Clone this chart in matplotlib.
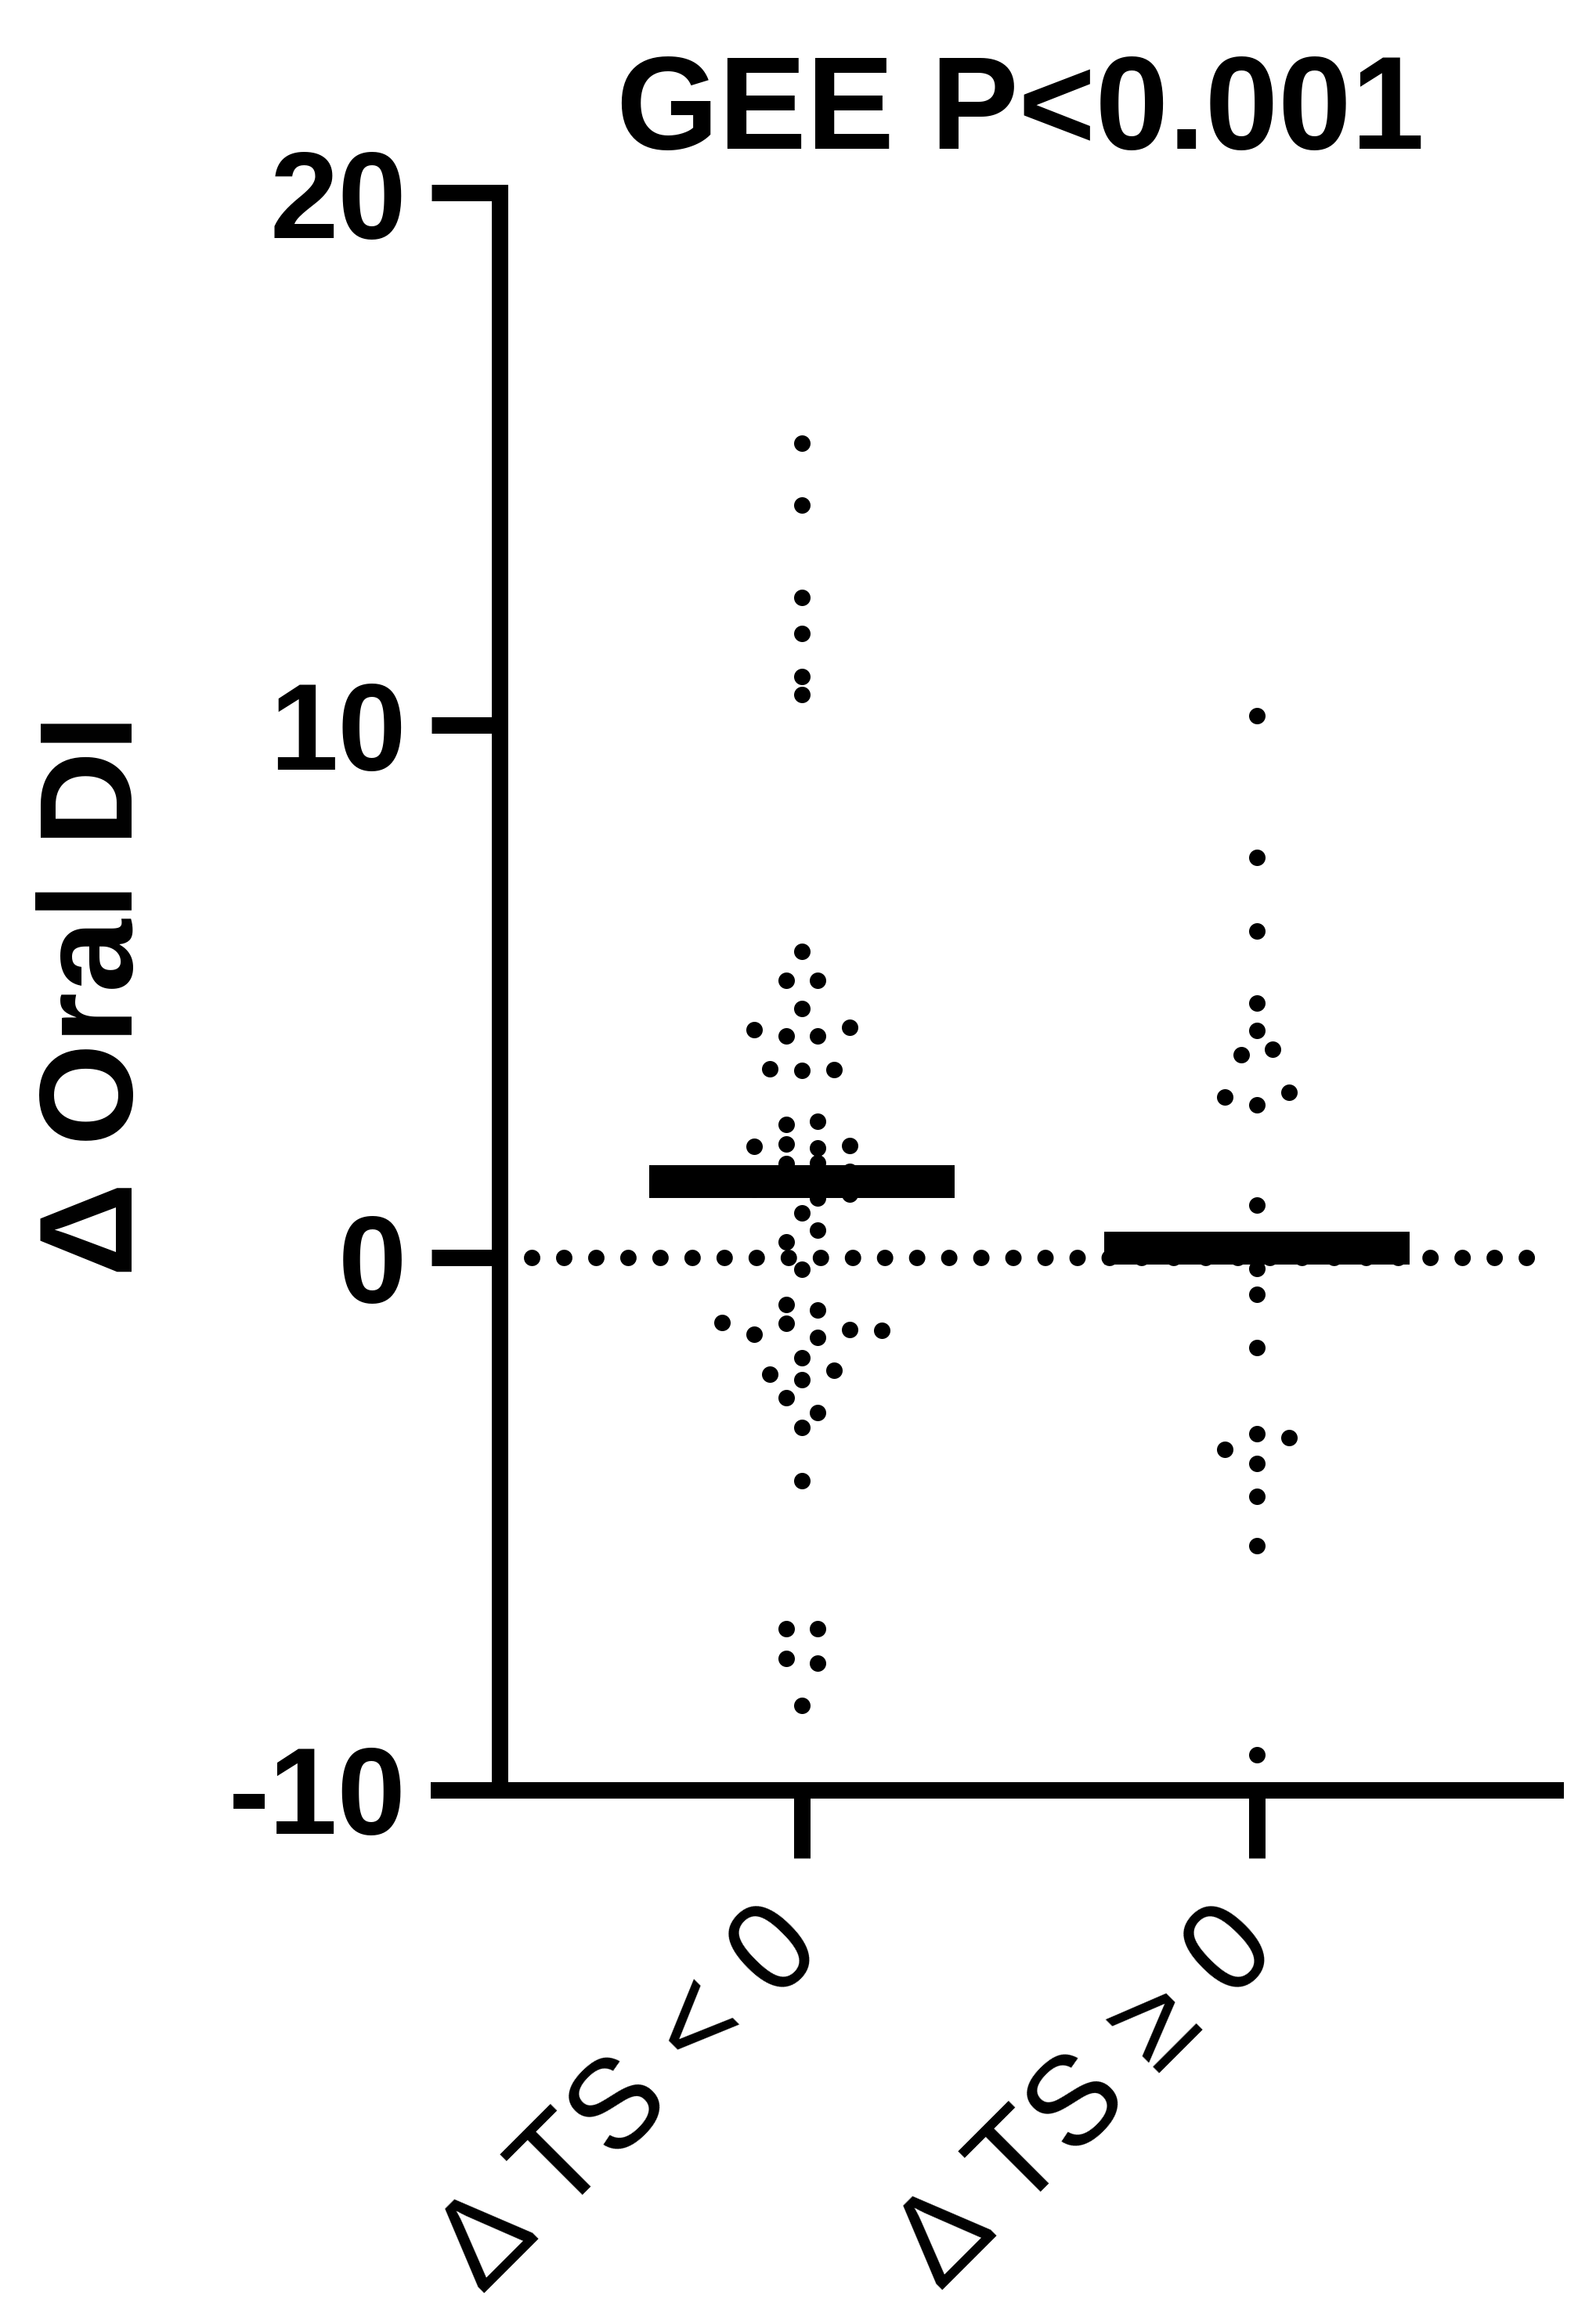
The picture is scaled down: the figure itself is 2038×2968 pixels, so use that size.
import matplotlib
matplotlib.use("Agg")
import matplotlib.pyplot as plt

plt.rcParams['font.family'] = ['Liberation Sans', 'DejaVu Sans']

# values, top to bottom, left to right within a row
ts_neg = [15.30, 14.13, 12.40, 11.73, 10.91, 10.58, 5.75, 5.20, 5.20, 4.68,
          4.28, 4.16, 4.16, 4.33, 3.55, 3.51, 3.53, 2.50, 2.56,
          2.08, 2.13, 2.06, 2.10, 1.52, 1.77, 1.78, 1.61, 1.28, 1.30, 1.12, 1.19,
          0.84, 0.29, 0.51, -0.22, -0.89, -0.99,
          -1.22, -1.44, -1.24, -1.50, -1.35, -1.37, -2.19, -1.89, -2.12,
          -2.30, -2.64, -2.92, -3.20, -4.20, -6.97, -6.97, -7.54, -7.63, -8.42]
ts_pos = [10.18, 7.52, 6.13, 4.78, 4.26, 3.81, 3.91, 3.01, 2.86, 3.10,
          0.98, -0.21, -0.69, -1.69, -3.60, -3.32, -3.39, -3.87, -4.49, -5.42, -9.34]
groups = [ts_neg, ts_pos]
center_lines = [1.42, 0.17]
group_labels = ["Δ TS < 0", "Δ TS ≥ 0"]
y_ticks = [-10, 0, 10, 20]


def swarm_offsets(vals, row_gap=0.32, step=0.0351):
    # prism-like rows: close values sit side by side, centred on the column
    order = sorted(range(len(vals)), key=lambda i: -vals[i])
    rows = []
    for i in order:
        if rows and rows[-1][0] - vals[i] <= row_gap:
            rows[-1][1].append(i)
        else:
            rows.append([vals[i], [i]])
    offs = [0.0] * len(vals)
    for top, idx in rows:
        idx.sort()
        n = len(idx)
        for k, i in enumerate(idx):
            offs[i] = (2 * k - (n - 1)) * step
    return offs


W, H = 2038, 2968
fig = plt.figure(figsize=(W / 100, H / 100), dpi=100)
ax = fig.add_axes([560 / W, 1 - 2285.5 / H, (1986 - 560) / W, (2285.5 - 246.5) / H])

lw = 15.12
ax.set_xlim(0.2014, 2.6558)
ax.set_ylim(-10, 20)

for s in ['top', 'right']:
    ax.spines[s].set_visible(False)
for s in ['left', 'bottom']:
    ax.spines[s].set_linewidth(lw)
ax.spines['left'].set_position(('data', 0.3356))

# dotted zero line
ax.axhline(0, xmin=0.0835, xmax=1.002, color='black', lw=lw,
           linestyle=(0, (0.001, 1.95)), dash_capstyle='round', clip_on=False, zorder=1)

for g, vals in enumerate(groups):
    xpos = g + 1
    offs = swarm_offsets(vals)
    ax.scatter([xpos + o for o in offs], vals, s=lw ** 2, color='black',
               linewidths=0, zorder=2, clip_on=False)
    ax.hlines(center_lines[g], xpos - 0.335, xpos + 0.335, color='black',
              lw=30.2, capstyle='butt', zorder=3)

ax.set_yticks(y_ticks)
ax.set_yticklabels([str(t) for t in y_ticks], fontsize=113, fontweight='bold')
ax.set_xticks([1, 2])
ax.set_xticklabels(group_labels, rotation=45, ha='right', va='center',
                   rotation_mode='anchor', fontsize=116)
ax.tick_params(axis='both', width=lw, length=62.6, direction='out', color='black')
ax.tick_params(axis='y', pad=23)
ax.tick_params(axis='x', pad=66)

fig.text(1303 / W, 1 - 190 / H, "GEE P<0.001", ha='center', va='baseline',
         fontsize=121, fontweight='bold')
fig.text(125 / W, 1 - 1271 / H, "Δ Oral DI", rotation=90, ha='center', va='center',
         fontsize=121, fontweight='bold')

fig.savefig("out.png", dpi=100)
